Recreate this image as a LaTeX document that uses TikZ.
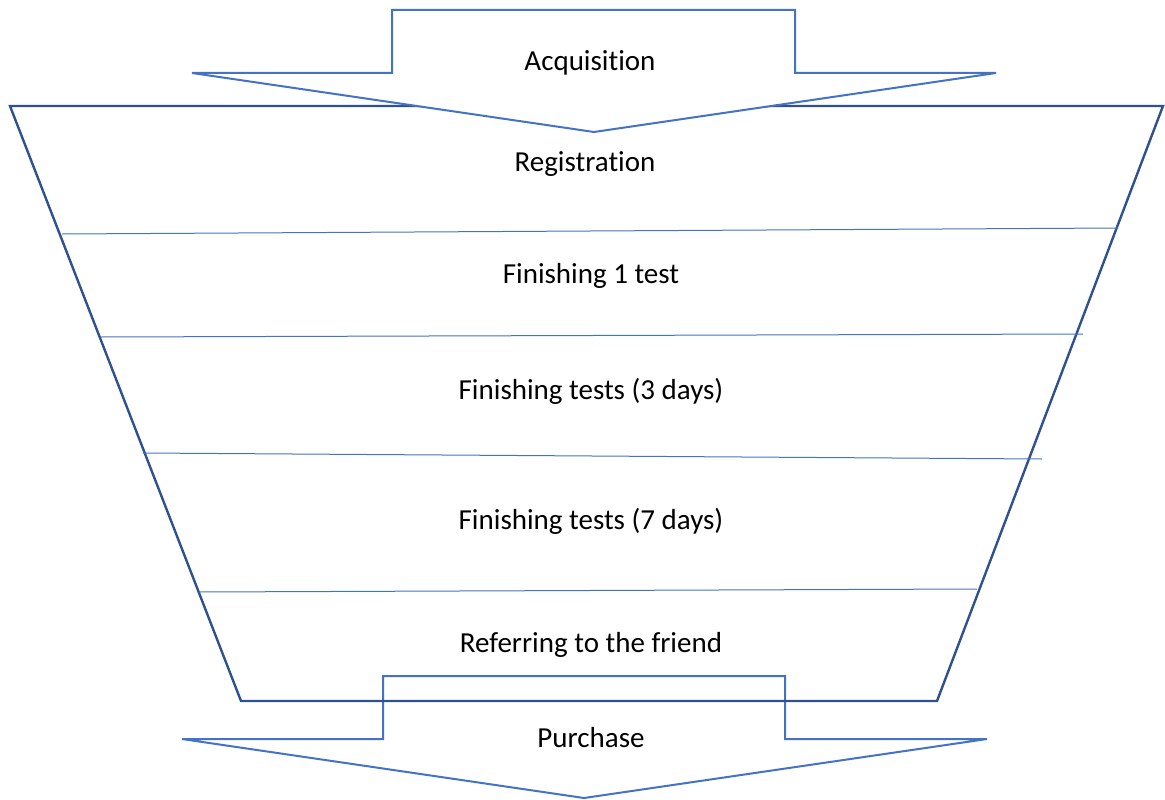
\documentclass[tikz,border=0pt]{standalone}
\usepackage{fontspec}
\setmainfont{Carlito}[Ligatures=CommonOff]
\definecolor{funnelblue}{HTML}{2F528F}
\definecolor{arrowblue}{HTML}{4472C4}
\begin{document}
\begin{tikzpicture}[x=1pt,y=-1pt,
  funnel/.style={draw=funnelblue,line width=2.4pt,line join=miter},
  bigarrow/.style={draw=arrowblue,line width=2pt,line join=miter},
  divider/.style={draw=arrowblue,line width=1pt},
  label/.style={font=\fontsize{29}{34}\selectfont,text=black,inner sep=0pt,anchor=center}]
\useasboundingbox (0,0) rectangle (1165,800);
% bottom arrow (behind funnel, unfilled)
\draw[bigarrow] (383,676) -- (785,676) -- (785,739) -- (987,739) -- (584,798) -- (182,739) -- (383,739) -- cycle;
% funnel
\draw[funnel] (10,106) -- (1163,106) -- (937,701) -- (241,701) -- cycle;
% dividers
\draw[divider] (62,234) -- (1118,228);
\draw[divider] (101,337) -- (1083,334);
\draw[divider] (143,453) -- (1042,459);
\draw[divider] (199,592) -- (977,589);
% top arrow (filled white, over the funnel)
\draw[bigarrow,fill=white] (392,10) -- (795,10) -- (795,73) -- (996,73) -- (594,132) -- (192,73) -- (392,73) -- cycle;
% labels
\node[label] (acq) at (590,63) {Acquisition};
\node[label] (reg) at (585,164) {Registration};
\node[label] (t1) at (591,276) {Finishing 1 test};
\node[label] (t3) at (591,391) {Finishing tests (3 days)};
\node[label] (t7) at (591,521) {Finishing tests (7 days)};
\node[label] (ref) at (591,645) {Referring to the friend};
\node[label] (pur) at (591,738) {Purchase};
\end{tikzpicture}
\end{document}
